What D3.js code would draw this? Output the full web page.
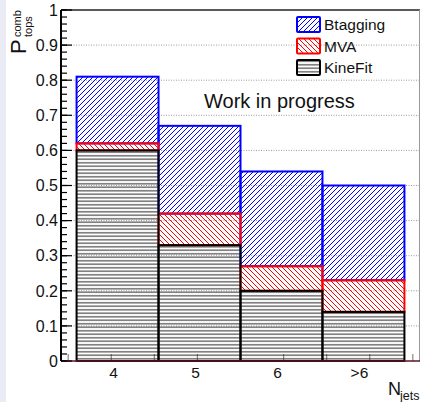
<!DOCTYPE html>
<html>
<head>
<meta charset="utf-8">
<script src="https://cdn.jsdelivr.net/npm/d3@7"></script>
<style>
  html, body { margin: 0; padding: 0; background: #fff; }
  svg { display: block; }
  text { font-family: "Liberation Sans", Arial, Helvetica, sans-serif; }
</style>
</head>
<body>
<svg id="chart" width="422" height="402"></svg>
<script>
// Combinatorial top-pairing probability per jet multiplicity, three methods
const categories = ["4", "5", "6", ">6"];
const btagging = [0.81, 0.67, 0.54, 0.50];
const mva      = [0.62, 0.42, 0.27, 0.23];
const kinefit  = [0.60, 0.33, 0.20, 0.14];
const legendLabels = ["Btagging", "MVA", "KineFit"];
const yTickValues = [0, 0.1, 0.2, 0.3, 0.4, 0.5, 0.6, 0.7, 0.8, 0.9, 1];

const W = 422, H = 402;
const plot = { left: 61, right: 420, top: 10, bottom: 361 };

const svg = d3.select("#chart");

// page background with the pale side strip
svg.append("rect").attr("width", W).attr("height", H).attr("fill", "#fff");
svg.append("rect").attr("width", 6).attr("height", H).attr("fill", "#ebebf6");

const x = d3.scaleBand()
  .domain(categories)
  .range([plot.left, plot.right])
  .paddingInner(0)
  .paddingOuter(0.19);

const y = d3.scaleLinear().domain([0, 1]).range([plot.bottom, plot.top]);

// hatch patterns
const defs = svg.append("defs");
const bluePat = defs.append("pattern")
  .attr("id", "hatchBlue").attr("patternUnits", "userSpaceOnUse")
  .attr("width", 5).attr("height", 5);
bluePat.append("path")
  .attr("d", "M-1,1 L1,-1 M0,5 L5,0 M4,6 L6,4")
  .attr("fill", "none")
  .attr("stroke", "rgb(0,0,255)").attr("stroke-width", 1);
const redPat = defs.append("pattern")
  .attr("id", "hatchRed").attr("patternUnits", "userSpaceOnUse")
  .attr("width", 5).attr("height", 5);
redPat.append("path")
  .attr("d", "M-1,4 L1,6 M0,0 L5,5 M4,-1 L6,1")
  .attr("fill", "none")
  .attr("stroke", "rgb(255,0,0)").attr("stroke-width", 1);
const blackPat = defs.append("pattern")
  .attr("id", "hatchBlack").attr("patternUnits", "userSpaceOnUse")
  .attr("width", 4).attr("height", 3.5);
blackPat.append("path")
  .attr("d", "M0,1.75 H4")
  .attr("fill", "none")
  .attr("stroke", "#222").attr("stroke-width", 1);

// dotted horizontal grid
svg.append("g").selectAll("line")
  .data(yTickValues.filter(d => d > 0 && d < 1))
  .join("line")
  .attr("x1", plot.left).attr("x2", plot.right)
  .attr("y1", d => y(d)).attr("y2", d => y(d))
  .attr("stroke", "#9a9a9a").attr("stroke-width", 1)
  .attr("stroke-dasharray", "1,1.5");

// small x-axis ticks (mostly hidden behind the bars)
const xt = d3.scaleLinear().domain([0, 1]).range([plot.left, plot.right]);
svg.append("g").selectAll("line")
  .data(d3.range(0.02, 0.99, 0.12))
  .join("line")
  .attr("x1", d => xt(d)).attr("x2", d => xt(d))
  .attr("y1", plot.bottom).attr("y2", plot.bottom - 7)
  .attr("stroke", "#888").attr("stroke-width", 1.2);

// histogram bars: each method's band spans from the method below it up to its own value
const series = [
  { name: "Btagging", top: btagging, base: mva,     fill: "url(#hatchBlue)",  stroke: "#0000ff" },
  { name: "MVA",      top: mva,      base: kinefit, fill: "url(#hatchRed)",   stroke: "#ff0000" },
  { name: "KineFit",  top: kinefit,  base: categories.map(() => 0), fill: "url(#hatchBlack)", stroke: "#000" }
];

series.forEach(s => {
  svg.append("g").selectAll("rect")
    .data(categories.map((c, i) => ({ c, top: s.top[i], base: s.base[i] })))
    .join("rect")
    .attr("x", d => x(d.c))
    .attr("width", x.bandwidth())
    .attr("y", d => y(d.top))
    .attr("height", d => y(d.base) - y(d.top))
    .attr("fill", s.fill)
    .attr("stroke", s.stroke)
    .attr("stroke-width", 2);
});

// frame
svg.append("line")
  .attr("x1", plot.left).attr("x2", plot.right)
  .attr("y1", plot.top).attr("y2", plot.top)
  .attr("stroke", "#222").attr("stroke-width", 1.5);
svg.append("line")
  .attr("x1", plot.right - 0.5).attr("x2", plot.right - 0.5)
  .attr("y1", plot.top).attr("y2", plot.bottom)
  .attr("stroke", "#999").attr("stroke-width", 1);
svg.append("line")
  .attr("x1", plot.left).attr("x2", plot.right)
  .attr("y1", plot.bottom).attr("y2", plot.bottom)
  .attr("stroke", "#5e1424").attr("stroke-width", 1.6);

// y axis with inward major and minor ticks
const yAxis = svg.append("g").attr("transform", `translate(${plot.left},0)`);
yAxis.append("line")
  .attr("x1", 0).attr("x2", 0)
  .attr("y1", plot.top).attr("y2", plot.bottom)
  .attr("stroke", "#000").attr("stroke-width", 2);
yAxis.selectAll("line.minor")
  .data(d3.range(0, 51).map(i => i / 50))
  .join("line").attr("class", "minor")
  .attr("x1", 0).attr("x2", 6)
  .attr("y1", d => y(d)).attr("y2", d => y(d))
  .attr("stroke", "#000").attr("stroke-width", 1.2);
yAxis.selectAll("line.major")
  .data(yTickValues)
  .join("line").attr("class", "major")
  .attr("x1", 0).attr("x2", 11)
  .attr("y1", d => y(d)).attr("y2", d => y(d))
  .attr("stroke", "#000").attr("stroke-width", 1.2);
const fmt = d3.format("~g");
yAxis.selectAll("text")
  .data(yTickValues)
  .join("text")
  .attr("x", -3)
  .attr("y", d => y(d))
  .attr("dy", "0.36em")
  .attr("text-anchor", "end")
  .attr("font-size", 16)
  .attr("fill", "#111")
  .text(d => fmt(d));

// x category labels
svg.append("g").selectAll("text")
  .data(categories)
  .join("text")
  .attr("x", d => x(d) + x.bandwidth() / 2 - 4)
  .attr("y", 378)
  .attr("text-anchor", "middle")
  .attr("font-size", 15.5)
  .attr("fill", "#111")
  .text(d => d);

// axis titles
svg.append("text")
  .attr("x", 388).attr("y", 395)
  .attr("font-size", 18).attr("fill", "#111")
  .text("N");
svg.append("text")
  .attr("x", 400).attr("y", 400)
  .attr("font-size", 12.5).attr("fill", "#111")
  .text("jets");

const yTitle = svg.append("g");
yTitle.append("text")
  .attr("transform", "translate(26,54) rotate(-90)")
  .attr("font-size", 22).attr("fill", "#111")
  .text("P");
yTitle.append("text")
  .attr("transform", "translate(21,37) rotate(-90)")
  .attr("font-size", 11).attr("fill", "#111")
  .text("comb");
yTitle.append("text")
  .attr("transform", "translate(31.5,37) rotate(-90)")
  .attr("font-size", 11).attr("fill", "#111")
  .text("tops");

// annotation
svg.append("text")
  .attr("x", 204).attr("y", 108)
  .attr("font-family", "Lato, 'Open Sans', sans-serif")
  .attr("font-size", 20).attr("fill", "#111")
  .text("Work in progress");

// legend
const legend = svg.append("g");
series.forEach((s, i) => {
  const yy = 17 + i * 21.5;
  legend.append("rect")
    .attr("x", 297).attr("y", yy)
    .attr("width", 23).attr("height", 15)
    .attr("rx", 1)
    .attr("fill", s.fill)
    .attr("stroke", s.stroke)
    .attr("stroke-width", 2);
  legend.append("text")
    .attr("x", 324).attr("y", yy + 13)
    .attr("font-size", 15.5).attr("fill", "#111")
    .text(legendLabels[i]);
});
</script>
</body>
</html>
